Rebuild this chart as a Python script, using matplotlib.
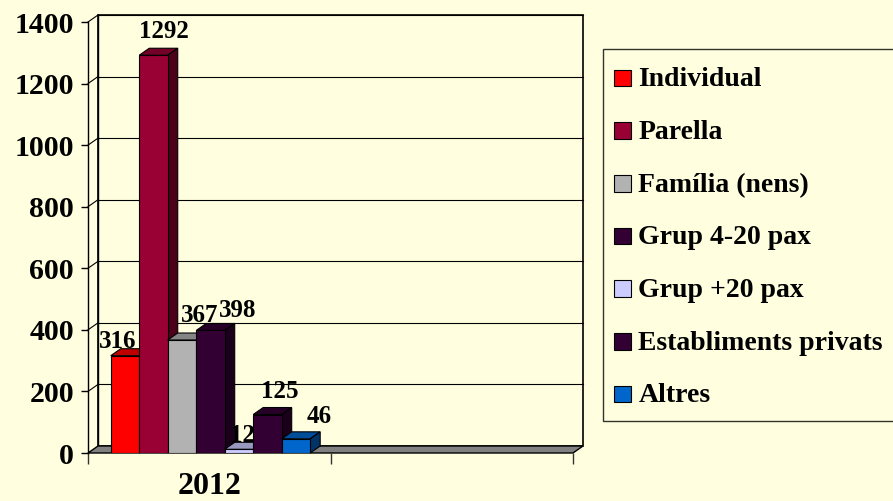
import numpy as np
import matplotlib
matplotlib.use("Agg")
import matplotlib.pyplot as plt
from matplotlib.patches import Polygon, Rectangle
from matplotlib.container import BarContainer
from matplotlib.legend_handler import HandlerPatch, update_from_first_child
import matplotlib.colors as mcolors

# data
categories = ["2012", ""]
series = ["Individual", "Parella", "Família (nens)", "Grup 4-20 pax",
          "Grup +20 pax", "Establiments privats", "Altres"]
values = [316, 1292, 367, 398, 12, 125, 46]
colors = ["#FF0000", "#990033", "#B2B2B2", "#330033",
          "#CCCCFF", "#330033", "#0066CC"]
yticks = [0, 200, 400, 600, 800, 1000, 1200, 1400]

# label nudges in pixels (x, y) relative to the back-top centre of each bar
label_dx = [-17, 0, 8, 17, -6, 2, 13]
label_dy = [1, 10, 11, 6, 0, 10, 9]

BG = "#FFFFE0"
W, H = 893, 501
plt.rcParams['font.family'] = ['Liberation Serif', 'DejaVu Serif']
plt.rcParams['font.weight'] = 'bold'

fig = plt.figure(figsize=(W / 100, H / 100), dpi=100, facecolor=BG)
# front plane of the 3d box, in pixels
L, R, B, T = 88, 573, 453, 22
ax = fig.add_axes([L / W, 1 - B / H, (R - L) / W, (B - T) / H])
ax.set_facecolor("none")
ax.set_xlim(0, len(categories))
ax.set_ylim(0, 1400)

# depth of the 3d effect
DX_PX, DY_PX = 10, 7
ddx = DX_PX * len(categories) / (R - L)
ddy = DY_PX * 1400 / (B - T)

def poly(pts, fc, ec="black", lw=0.8, z=1):
    p = Polygon(pts, closed=True, facecolor=fc, edgecolor=ec, linewidth=lw,
                zorder=z, clip_on=False, joinstyle='miter')
    ax.add_patch(p)

xmax = len(categories)
# back wall
poly([(ddx, ddy), (xmax + ddx, ddy), (xmax + ddx, 1400 + ddy), (ddx, 1400 + ddy)],
     BG, lw=1.2, z=0.5)
for v in yticks[1:]:
    ax.plot([ddx, xmax + ddx], [v + ddy, v + ddy], color="black", lw=0.8,
            zorder=0.6, clip_on=False)
    # left wall grid
    ax.plot([0, ddx], [v, v + ddy], color="black", lw=0.8, zorder=0.6, clip_on=False)
ax.plot([ddx, ddx], [ddy, 1400 + ddy], color="black", lw=1.0, zorder=0.6, clip_on=False)
# floor
poly([(0, 0), (xmax, 0), (xmax + ddx, ddy), (ddx, ddy)], "#808080", lw=1.0, z=0.7)

# bars
n = len(series)
bw = 0.1175
x0s = 0.505 - n * bw / 2 + np.arange(n) * bw
for i, (name, v, c) in enumerate(zip(series, values, colors)):
    z = 2 + i
    rgb = np.array(mcolors.to_rgb(c))
    ax.bar(x0s[i], v, width=bw, align='edge', color=c, edgecolor="black",
           linewidth=0.8, label=name, zorder=z + 0.5)
    x0, x1 = x0s[i], x0s[i] + bw
    poly([(x0, v), (x1, v), (x1 + ddx, v + ddy), (x0 + ddx, v + ddy)],
         rgb * 0.75, z=z)
    poly([(x1, 0), (x1 + ddx, ddy), (x1 + ddx, v + ddy), (x1, v)],
         rgb * 0.5, z=z)
    ax.annotate(str(v), (x0 + bw / 2 + ddx, v + ddy),
                xytext=(label_dx[i], label_dy[i]), textcoords='offset pixels',
                ha='center', va='baseline', fontsize=18, fontweight='bold',
                color='black', zorder=20, annotation_clip=False)

# axes styling
for s in ["top", "right", "bottom"]:
    ax.spines[s].set_visible(False)
ax.spines["left"].set_linewidth(1.0)
ax.set_yticks(yticks)
ax.set_yticklabels([str(t) for t in yticks], fontsize=21.5, fontweight='bold')
ax.tick_params(axis='y', length=5, width=1, pad=5)
ax.set_xticks(np.arange(len(categories) + 1))
ax.set_xticklabels([])
ax.tick_params(axis='x', which='major', length=8, width=1, color='#333333')
ax.set_xticks(np.arange(len(categories)) + 0.5, minor=True)
ax.set_xticklabels(categories, minor=True, fontsize=23, fontweight='bold')
ax.tick_params(axis='x', which='minor', length=0, pad=14)


# small square legend keys sitting on the text baseline
def square_key(legend, orig_handle, xdescent, ydescent, width, height, fontsize):
    return Rectangle((-xdescent, 0), width, 12)


leg = ax.legend(loc='upper left', bbox_to_anchor=(603 / W, 1 - 49 / H),
                bbox_transform=fig.transFigure, borderaxespad=0,
                frameon=True, fancybox=False, shadow=False,
                handlelength=0.62, handleheight=1.51, handletextpad=0.25,
                labelspacing=0.67, borderpad=0.4,
                handler_map={BarContainer: HandlerPatch(
                    patch_func=square_key, update_func=update_from_first_child)},
                prop={'family': ['Liberation Serif'], 'weight': 'bold', 'size': 20})
leg.get_frame().set_edgecolor('black')
leg.get_frame().set_facecolor(BG)
leg.get_frame().set_linewidth(1.0)

fig.savefig("out.png", dpi=100, facecolor=BG)
